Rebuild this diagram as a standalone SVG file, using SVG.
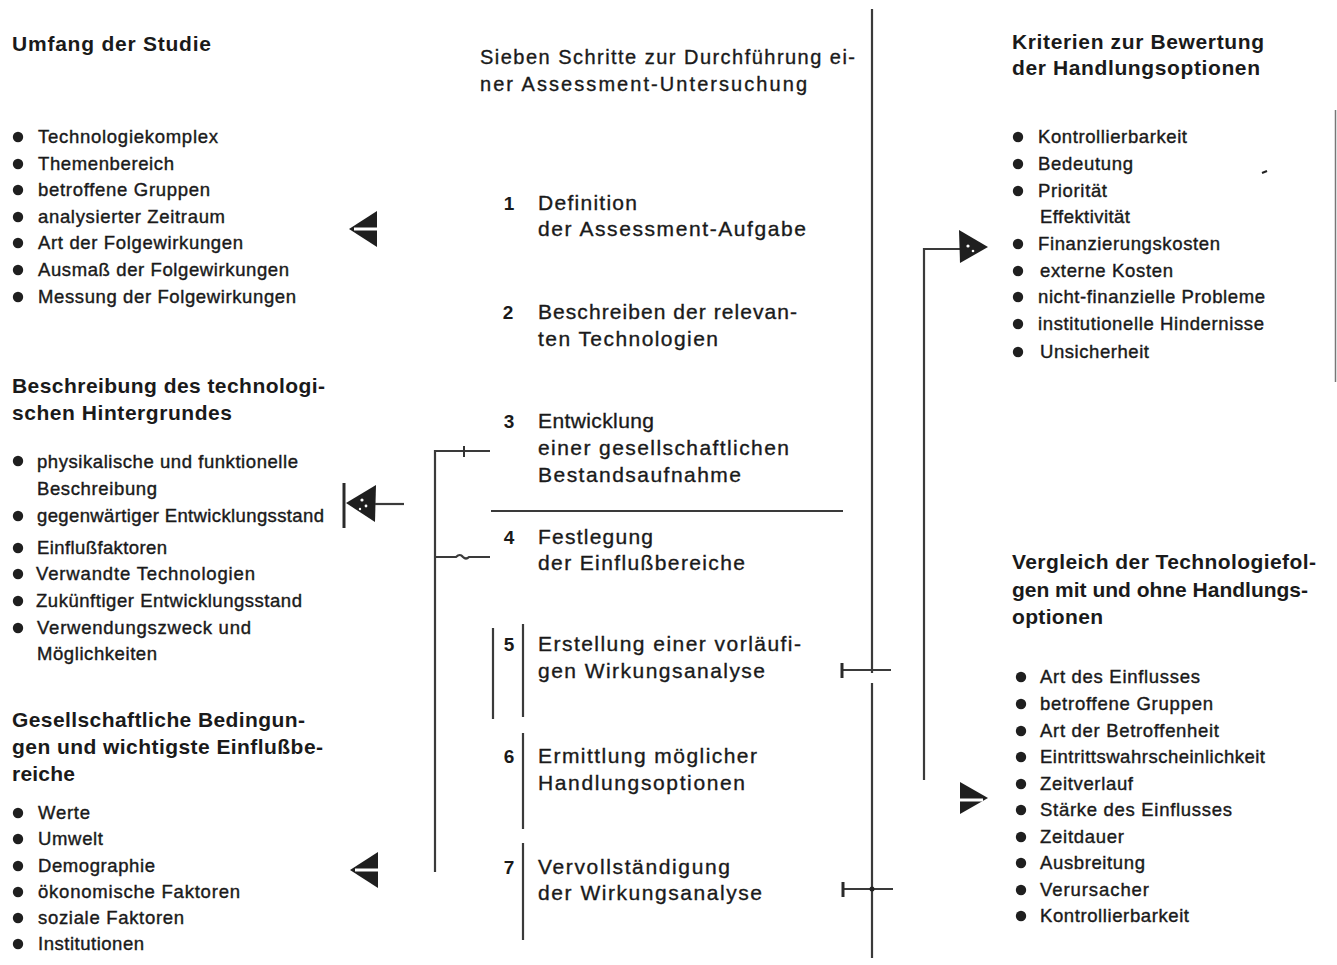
<svg xmlns="http://www.w3.org/2000/svg" width="1337" height="965" viewBox="0 0 1337 965">
  <style>
    text { font-family: "Liberation Sans", Arial, sans-serif; fill: #1a1a1a; }
    .h { font-size: 21px; font-weight: bold; }
    .i { font-size: 18.5px; stroke: #1a1a1a; stroke-width: 0.4; }
    .s { font-size: 21px; stroke: #1a1a1a; stroke-width: 0.35; }
    .t { font-size: 20px; stroke: #1a1a1a; stroke-width: 0.35; }
    .n { font-size: 19px; font-weight: bold; text-anchor: middle; }
    .ln { stroke: #3a3a3a; stroke-width: 2.2; fill: none; }
    .tk { stroke: #2a2a2a; stroke-width: 3; fill: none; }
    .dot { fill: #1f1f1f; }
  </style>
  <defs>
    <!-- split arrowhead pointing left, tip at origin -->
    <g id="splitLeft">
      <polygon points="0,0 28,-18 28,18" fill="#1f1f1f"/>
      <rect x="5" y="-1.5" width="25" height="3" fill="#fff"/>
    </g>
    <!-- split arrowhead pointing right, tip at origin -->
    <g id="splitRight">
      <polygon points="0,0 -28,-16 -28,16" fill="#1f1f1f"/>
      <rect x="-30" y="0.5" width="25" height="3" fill="#fff"/>
    </g>
    <circle id="b" r="5.2" class="dot"/>
  </defs>

  <rect width="1337" height="965" fill="#fff"/>

  <!-- left column: scope of the study -->
  <g id="scope">
    <text class="h" x="12" y="51" textLength="199" lengthAdjust="spacing">Umfang der Studie</text>
    <use href="#b" x="18" y="137"/><text class="i" x="38" y="143" textLength="180" lengthAdjust="spacing">Technologiekomplex</text>
    <use href="#b" x="18" y="164"/><text class="i" x="38" y="170" textLength="136" lengthAdjust="spacing">Themenbereich</text>
    <use href="#b" x="18" y="190"/><text class="i" x="38" y="196" textLength="172" lengthAdjust="spacing">betroffene Gruppen</text>
    <use href="#b" x="18" y="217"/><text class="i" x="38" y="223" textLength="187" lengthAdjust="spacing">analysierter Zeitraum</text>
    <use href="#b" x="18" y="243"/><text class="i" x="38" y="249" textLength="205" lengthAdjust="spacing">Art der Folgewirkungen</text>
    <use href="#b" x="18" y="270"/><text class="i" x="38" y="276" textLength="251" lengthAdjust="spacing">Ausmaß der Folgewirkungen</text>
    <use href="#b" x="18" y="297"/><text class="i" x="38" y="303" textLength="258" lengthAdjust="spacing">Messung der Folgewirkungen</text>
  </g>

  <!-- left column: technological background -->
  <g id="background">
    <text class="h" x="12" y="393" textLength="313" lengthAdjust="spacing">Beschreibung des technologi-</text>
    <text class="h" x="12" y="420" textLength="220" lengthAdjust="spacing">schen Hintergrundes</text>
    <use href="#b" x="18" y="461"/><text class="i" x="37" y="468" textLength="261" lengthAdjust="spacing">physikalische und funktionelle</text>
    <text class="i" x="37" y="495" textLength="120" lengthAdjust="spacing">Beschreibung</text>
    <use href="#b" x="18" y="516"/><text class="i" x="37" y="522" textLength="287" lengthAdjust="spacing">gegenwärtiger Entwicklungsstand</text>
    <use href="#b" x="18" y="548"/><text class="i" x="37" y="554" textLength="130" lengthAdjust="spacing">Einflußfaktoren</text>
    <use href="#b" x="18" y="574"/><text class="i" x="36" y="580" textLength="219" lengthAdjust="spacing">Verwandte Technologien</text>
    <use href="#b" x="18" y="601"/><text class="i" x="36" y="607" textLength="266" lengthAdjust="spacing">Zukünftiger Entwicklungsstand</text>
    <use href="#b" x="18" y="628"/><text class="i" x="37" y="634" textLength="214" lengthAdjust="spacing">Verwendungszweck und</text>
    <text class="i" x="37" y="660" textLength="120" lengthAdjust="spacing">Möglichkeiten</text>
  </g>

  <!-- left column: social conditions -->
  <g id="conditions">
    <text class="h" x="12" y="727" textLength="293" lengthAdjust="spacing">Gesellschaftliche Bedingun-</text>
    <text class="h" x="12" y="754" textLength="311" lengthAdjust="spacing">gen und wichtigste Einflußbe-</text>
    <text class="h" x="12" y="781" textLength="63" lengthAdjust="spacing">reiche</text>
    <use href="#b" x="18" y="813"/><text class="i" x="38" y="819" textLength="52" lengthAdjust="spacing">Werte</text>
    <use href="#b" x="18" y="839"/><text class="i" x="38" y="845" textLength="65" lengthAdjust="spacing">Umwelt</text>
    <use href="#b" x="18" y="866"/><text class="i" x="38" y="872" textLength="117" lengthAdjust="spacing">Demographie</text>
    <use href="#b" x="18" y="892"/><text class="i" x="38" y="898" textLength="202" lengthAdjust="spacing">ökonomische Faktoren</text>
    <use href="#b" x="18" y="918"/><text class="i" x="38" y="924" textLength="146" lengthAdjust="spacing">soziale Faktoren</text>
    <use href="#b" x="18" y="944"/><text class="i" x="38" y="950" textLength="106" lengthAdjust="spacing">Institutionen</text>
  </g>

  <!-- middle column: seven steps -->
  <g id="steps-title">
    <text class="t" x="480" y="64" textLength="375" lengthAdjust="spacing">Sieben Schritte zur Durchführung ei-</text>
    <text class="t" x="480" y="91" textLength="327" lengthAdjust="spacing">ner Assessment-Untersuchung</text>
  </g>
  <g id="step1">
    <text class="n" x="509" y="210">1</text>
    <text class="s" x="538" y="210" textLength="99" lengthAdjust="spacing">Definition</text>
    <text class="s" x="538" y="236" textLength="268" lengthAdjust="spacing">der Assessment-Aufgabe</text>
  </g>
  <g id="step2">
    <text class="n" x="508" y="319">2</text>
    <text class="s" x="538" y="319" textLength="259" lengthAdjust="spacing">Beschreiben der relevan-</text>
    <text class="s" x="538" y="346" textLength="180" lengthAdjust="spacing">ten Technologien</text>
  </g>
  <g id="step3">
    <text class="n" x="509" y="428">3</text>
    <text class="s" x="538" y="428" textLength="116" lengthAdjust="spacing">Entwicklung</text>
    <text class="s" x="538" y="455" textLength="251" lengthAdjust="spacing">einer gesellschaftlichen</text>
    <text class="s" x="538" y="482" textLength="203" lengthAdjust="spacing">Bestandsaufnahme</text>
  </g>
  <g id="step4">
    <text class="n" x="509" y="544">4</text>
    <text class="s" x="538" y="544" textLength="115" lengthAdjust="spacing">Festlegung</text>
    <text class="s" x="538" y="570" textLength="207" lengthAdjust="spacing">der Einflußbereiche</text>
  </g>
  <g id="step5">
    <line class="ln" x1="493" y1="628" x2="493" y2="719"/>
    <line class="ln" x1="523" y1="624" x2="523" y2="717"/>
    <text class="n" x="509" y="651">5</text>
    <text class="s" x="538" y="651" textLength="263" lengthAdjust="spacing">Erstellung einer vorläufi-</text>
    <text class="s" x="538" y="678" textLength="227" lengthAdjust="spacing">gen Wirkungsanalyse</text>
  </g>
  <g id="step6">
    <line class="ln" x1="523" y1="733" x2="523" y2="829"/>
    <text class="n" x="509" y="763">6</text>
    <text class="s" x="538" y="763" textLength="219" lengthAdjust="spacing">Ermittlung möglicher</text>
    <text class="s" x="538" y="790" textLength="207" lengthAdjust="spacing">Handlungsoptionen</text>
  </g>
  <g id="step7">
    <line class="ln" x1="523" y1="843" x2="523" y2="940"/>
    <text class="n" x="509" y="874">7</text>
    <text class="s" x="538" y="874" textLength="192" lengthAdjust="spacing">Vervollständigung</text>
    <text class="s" x="538" y="900" textLength="224" lengthAdjust="spacing">der Wirkungsanalyse</text>
  </g>

  <!-- right column: evaluation criteria -->
  <g id="criteria">
    <text class="h" x="1012" y="49" textLength="252" lengthAdjust="spacing">Kriterien zur Bewertung</text>
    <text class="h" x="1012" y="75" textLength="248" lengthAdjust="spacing">der Handlungsoptionen</text>
    <use href="#b" x="1018" y="137"/><text class="i" x="1038" y="143" textLength="149" lengthAdjust="spacing">Kontrollierbarkeit</text>
    <use href="#b" x="1018" y="164"/><text class="i" x="1038" y="170" textLength="95" lengthAdjust="spacing">Bedeutung</text>
    <use href="#b" x="1018" y="191"/><text class="i" x="1038" y="197" textLength="69" lengthAdjust="spacing">Priorität</text>
    <text class="i" x="1040" y="223" textLength="90" lengthAdjust="spacing">Effektivität</text>
    <use href="#b" x="1018" y="244"/><text class="i" x="1038" y="250" textLength="182" lengthAdjust="spacing">Finanzierungskosten</text>
    <use href="#b" x="1018" y="271"/><text class="i" x="1040" y="277" textLength="133" lengthAdjust="spacing">externe Kosten</text>
    <use href="#b" x="1018" y="297"/><text class="i" x="1038" y="303" textLength="227" lengthAdjust="spacing">nicht-finanzielle Probleme</text>
    <use href="#b" x="1018" y="324"/><text class="i" x="1038" y="330" textLength="226" lengthAdjust="spacing">institutionelle Hindernisse</text>
    <use href="#b" x="1018" y="352"/><text class="i" x="1040" y="358" textLength="109" lengthAdjust="spacing">Unsicherheit</text>
    <line x1="1262" y1="173" x2="1267" y2="171" stroke="#222" stroke-width="2"/>
    <line x1="1335.5" y1="110" x2="1335.5" y2="382" stroke="#777" stroke-width="1.5"/>
  </g>

  <!-- right column: comparison with and without options -->
  <g id="comparison">
    <text class="h" x="1012" y="569" textLength="304" lengthAdjust="spacing">Vergleich der Technologiefol-</text>
    <text class="h" x="1012" y="597" textLength="296" lengthAdjust="spacing">gen mit und ohne Handlungs-</text>
    <text class="h" x="1012" y="624" textLength="91" lengthAdjust="spacing">optionen</text>
    <use href="#b" x="1021" y="677"/><text class="i" x="1040" y="683" textLength="160" lengthAdjust="spacing">Art des Einflusses</text>
    <use href="#b" x="1021" y="704"/><text class="i" x="1040" y="710" textLength="173" lengthAdjust="spacing">betroffene Gruppen</text>
    <use href="#b" x="1021" y="731"/><text class="i" x="1040" y="737" textLength="179" lengthAdjust="spacing">Art der Betroffenheit</text>
    <use href="#b" x="1021" y="757"/><text class="i" x="1040" y="763" textLength="225" lengthAdjust="spacing">Eintrittswahrscheinlichkeit</text>
    <use href="#b" x="1021" y="784"/><text class="i" x="1040" y="790" textLength="93" lengthAdjust="spacing">Zeitverlauf</text>
    <use href="#b" x="1021" y="810"/><text class="i" x="1040" y="816" textLength="192" lengthAdjust="spacing">Stärke des Einflusses</text>
    <use href="#b" x="1021" y="837"/><text class="i" x="1040" y="843" textLength="84" lengthAdjust="spacing">Zeitdauer</text>
    <use href="#b" x="1021" y="863"/><text class="i" x="1040" y="869" textLength="105" lengthAdjust="spacing">Ausbreitung</text>
    <use href="#b" x="1021" y="890"/><text class="i" x="1040" y="896" textLength="109" lengthAdjust="spacing">Verursacher</text>
    <use href="#b" x="1021" y="916"/><text class="i" x="1040" y="922" textLength="149" lengthAdjust="spacing">Kontrollierbarkeit</text>
  </g>

  <!-- connectors -->
  <g id="connectors">
    <!-- main divider -->
    <line class="ln" x1="872" y1="9" x2="872" y2="673"/>
    <line class="ln" x1="872" y1="683" x2="872" y2="958"/>
    <!-- separator between steps 3 and 4 -->
    <line class="ln" x1="491" y1="511" x2="843" y2="511"/>
    <!-- left bracket linking steps 3 and 4 -->
    <path class="ln" d="M435,872 V451 H490"/>
    <line x1="464" y1="446" x2="464" y2="457" stroke="#333" stroke-width="2"/>
    <path class="ln" d="M435,557 H456 q4,-4 7,0 q3,3 6,0 H490"/>
    <!-- ticks on the divider for steps 5 and 7 -->
    <path class="ln" d="M842,670 H891"/>
    <line class="tk" x1="842" y1="663" x2="842" y2="678"/>
    <path class="ln" d="M843,889 H893"/>
    <line class="tk" x1="843" y1="882" x2="843" y2="897"/>
    <circle cx="872" cy="889" r="2.5" fill="#222"/>
    <!-- arrow into the background column -->
    <line class="tk" x1="344" y1="483" x2="344" y2="528"/>
    <polygon points="346,503 376,485 375,522" fill="#1f1f1f"/>
    <circle cx="362" cy="500" r="1.6" fill="#fff"/>
    <circle cx="366" cy="506" r="1.4" fill="#fff"/>
    <circle cx="360" cy="509" r="1.2" fill="#fff"/>
    <line class="ln" x1="375" y1="504" x2="404" y2="504"/>
    <!-- arrowheads beside scope and conditions -->
    <use href="#splitLeft" x="349" y="229"/>
    <use href="#splitLeft" x="350" y="870"/>
    <!-- arrow into the criteria column -->
    <path class="ln" d="M924,780 V249 H962"/>
    <polygon points="959,230 988,247 960,263" fill="#1f1f1f"/>
    <circle cx="968" cy="246" r="1.6" fill="#fff"/>
    <circle cx="973" cy="251" r="1.3" fill="#fff"/>
    <!-- arrowhead beside the comparison list -->
    <use href="#splitRight" x="988" y="798"/>
  </g>
</svg>
